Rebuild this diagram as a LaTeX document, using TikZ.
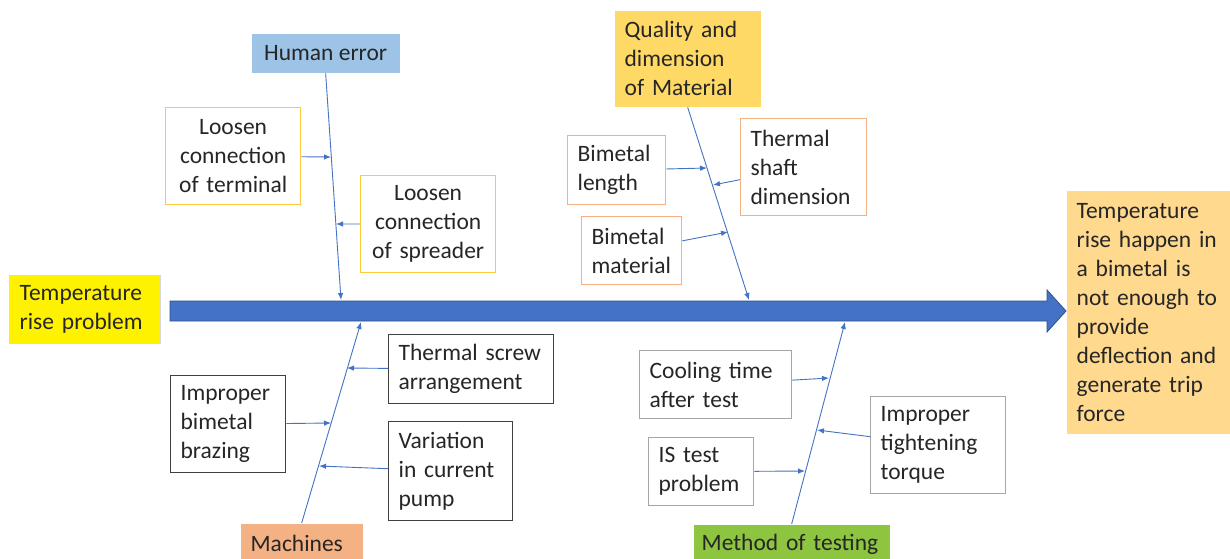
\documentclass[tikz,border=0pt]{standalone}
\usepackage{fontspec}
\setmainfont{Carlito}
\usetikzlibrary{arrows.meta}
\definecolor{spine}{HTML}{4472C4}
\definecolor{spined}{HTML}{2F528F}
\definecolor{humf}{HTML}{9DC3E6}
\definecolor{humb}{HTML}{FFC83D}
\definecolor{qualf}{HTML}{FFD966}
\definecolor{qualb}{HTML}{F4B183}
\definecolor{machf}{HTML}{F4B183}
\definecolor{machb}{HTML}{404040}
\definecolor{methf}{HTML}{8DC540}
\definecolor{methb}{HTML}{A6A6A6}
\definecolor{efff}{HTML}{FFD98E}
\definecolor{txt}{HTML}{262626}
\newcommand{\fnt}{\fontsize{23.5}{29}\selectfont\hyphenpenalty=10000}
\tikzstyle{bx}=[draw,line width=1.3pt,inner xsep=10pt,inner ysep=0pt,anchor=north west,align=left,font=\fnt,text=txt]
\tikzstyle{hd}=[bx,draw=none]
\tikzstyle{br}=[draw=spine,line width=0.9pt,-{Latex[length=7pt,width=5.5pt]}]

\begin{document}
\begin{tikzpicture}[x=1pt,y=-1pt]
\clip (0,0) rectangle (1230,558);
\fill[white] (0,0) rectangle (1230,558);
\fill[spine,draw=spined,line width=0.8pt] (170,301) -- (1047,301) -- (1047,290) -- (1066,311) -- (1047,332) -- (1047,321) -- (170,321) -- cycle;
\coordinate (hs) at (341,300);
\coordinate (qs) at (749,300);
\coordinate (ms) at (361,322);
\coordinate (ts) at (845,322);

\node[bx,draw=black!15,fill=yellow,text width=131pt,minimum height=68pt] (prob) at (9,275) {Temperature\\rise problem};
\node[hd,fill=efff,text width=152pt,minimum height=243pt] (eff) at (1066,190) {Temperature\\rise happen in\\a bimetal is\\not enough to\\provide\\deflection and\\generate trip\\force};

\node[hd,fill=humf,align=center,minimum width=148pt,minimum height=39pt] (hum) at (251,33) {Human error};
\node[bx,draw=humb,align=center,text width=115pt,minimum height=97pt] (term) at (165,107) {Loosen\\connection\\of terminal};
\node[bx,draw=humb,align=center,text width=115pt,minimum height=97pt] (spr) at (360,175) {Loosen\\connection\\of spreader};
\draw[br] (hum.south) -- (hs);
\draw[br] (term) -- (331,157);
\draw[br] (spr) -- (336,224);

\node[hd,fill=qualf,text width=126pt,minimum height=96pt] (qual) at (614,10) {Quality and\\dimension\\of Material};
\node[bx,draw=qualb,text width=78pt,minimum height=69pt] (blen) at (567,135) {Bimetal\\length};
\node[bx,draw=qualb,text width=106pt,minimum height=97pt] (tsh) at (740,118) {Thermal\\shaft\\dimension};
\node[bx,draw=qualb,text width=80pt,minimum height=68pt] (bmat) at (581,216) {Bimetal\\material};
\draw[br] (qual.south) -- (qs);
\draw[br] (blen) -- (707,168);
\draw[br] (tsh) -- (713,185);
\draw[br] (bmat) -- (728,232);

\node[hd,fill=machf,text width=102pt,minimum height=39pt] (mach) at (240,523) {Machines};
\node[bx,draw=machb,text width=145pt,minimum height=69pt] (tscr) at (388,334) {Thermal screw\\arrangement};
\node[bx,draw=machb,text width=95pt,minimum height=97pt] (braz) at (170,375) {Improper\\bimetal\\brazing};
\node[bx,draw=machb,text width=104pt,minimum height=99pt] (var) at (388,421) {Variation\\in current\\pump};
\draw[br] (mach.north) -- (ms);
\draw[br] (tscr) -- (347,368);
\draw[br] (braz) -- (331,423);
\draw[br] (var) -- (319,466);

\node[hd,fill=methf,inner xsep=8pt,text width=180pt,minimum height=39pt] (meth) at (693,524) {Method of testing};
\node[bx,draw=methb,text width=132pt,minimum height=68pt] (cool) at (639,350) {Cooling time\\after test};
\node[bx,draw=methb,text width=85pt,minimum height=68pt] (ist) at (648,437) {IS test\\problem};
\node[bx,draw=methb,text width=115pt,minimum height=97pt] (tight) at (870,396) {Improper\\tightening\\torque};
\draw[br] (meth.north) -- (ts);
\draw[br] (cool) -- (829,378);
\draw[br] (tight) -- (817,430);
\draw[br] (ist) -- (805,471);
\end{tikzpicture}
\end{document}
